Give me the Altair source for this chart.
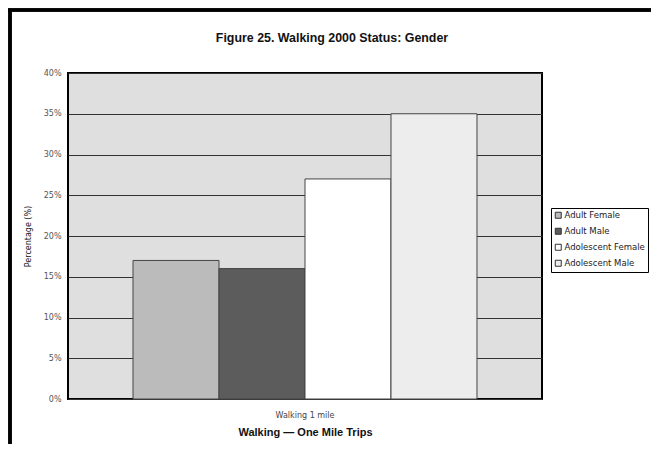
import altair as alt
import pandas as pd

categories = ["Walking 1 mile"]
series = ["Adult Female", "Adult Male", "Adolescent Female", "Adolescent Male"]
values = [17, 16, 27, 35]
colors = ["#BBBBBB", "#5C5C5C", "#FFFFFF", "#EDEDED"]

df = pd.DataFrame({
    "category": categories * len(series),
    "series": series,
    "value": [v / 100 for v in values],
})

BOLD = "Liberation Sans"
SMALL = "DejaVu Sans"

bars = alt.Chart(df).mark_bar(stroke="#444444", strokeWidth=1).encode(
    x=alt.X("category:N",
            scale=alt.Scale(paddingInner=0, paddingOuter=0.189),
            axis=alt.Axis(title="Walking — One Mile Trips", labelAngle=0,
                          labelFontSize=8, labelColor="#444444", labelPadding=12,
                          ticks=False, domain=False,
                          titleFontSize=11, titleFontWeight="bold", titleColor="#111111",
                          titlePadding=7, labelFont=SMALL, titleFont=BOLD)),
    xOffset=alt.XOffset("series:N", sort=series,
                        scale=alt.Scale(paddingInner=0, paddingOuter=0)),
    y=alt.Y("value:Q",
            scale=alt.Scale(domain=[0, 0.4], nice=False),
            axis=alt.Axis(title="Percentage (%)", format=".0%", values=[i / 100 for i in range(0, 41, 5)],
                          grid=True, gridColor="#333333", gridWidth=1, gridOpacity=1,
                          ticks=False, domain=False, labelPadding=7,
                          labelFontSize=8, labelColor="#555555", labelFont=SMALL,
                          titleFontSize=8, titleFontWeight="normal", titleColor="#111111",
                          titleFont=SMALL, titlePadding=11)),
    color=alt.Color("series:N", sort=series,
                    scale=alt.Scale(domain=series, range=colors),
                    legend=alt.Legend(title=None, orient="none", legendX=483, legendY=135,
                                      symbolType="square", symbolSize=36,
                                      symbolStrokeColor="#333333", symbolStrokeWidth=1,
                                      labelFontSize=8.5, labelFont=SMALL, labelColor="#222222",
                                      rowPadding=5, labelOffset=2,
                                      strokeColor="#000000", fillColor="#FFFFFF",
                                      padding=3, cornerRadius=0)),
)

frame_left = alt.Chart(df).mark_rule(color="#000000", strokeWidth=3).encode(
    x=alt.value(-58), y=alt.value(-64), y2=alt.value(500))
frame_top = alt.Chart(df).mark_rule(color="#000000", strokeWidth=3).encode(
    x=alt.value(-60), x2=alt.value(700), y=alt.value(-63))

chart = alt.layer(bars, frame_left, frame_top).properties(
    width=474, height=326,
    padding={"left": 60, "top": 65, "right": 109, "bottom": 45},
    autosize=alt.AutoSizeParams(type="none"),
    background="#FFFFFF",
    title=alt.TitleParams("Figure 25. Walking 2000 Status: Gender", fontSize=12.4, font=BOLD,
                          fontWeight="bold", color="#111111", dx=27, offset=-37,
                          anchor="middle", frame="group"),
).configure_view(
    fill="#DFDFDF", stroke="#000000", strokeWidth=2
)

chart.save("out.html", embed_options={"renderer": "svg", "actions": False})
